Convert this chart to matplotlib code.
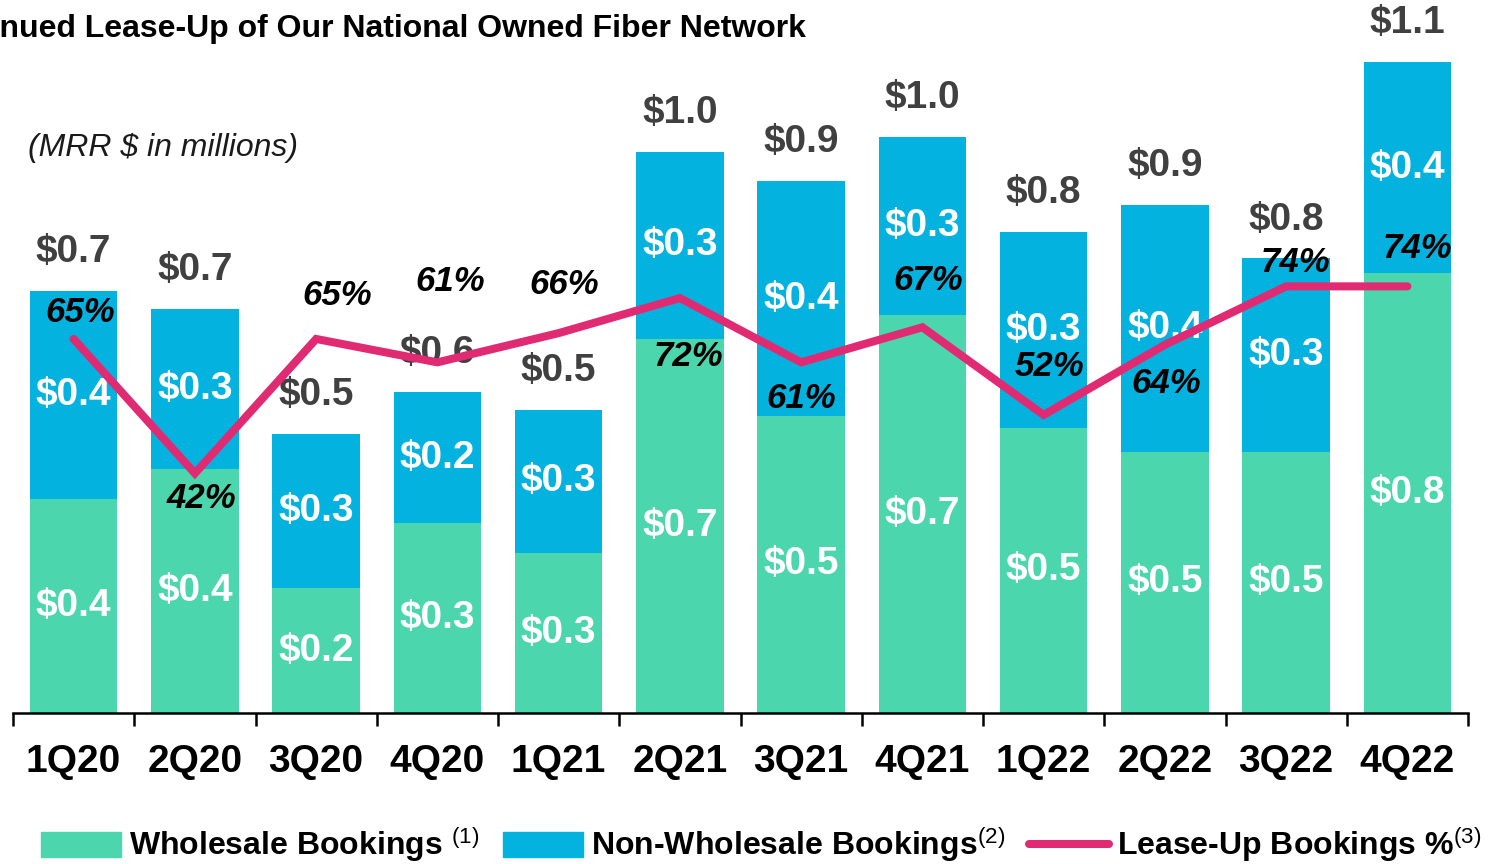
import numpy as np
import matplotlib
matplotlib.use("Agg")
import matplotlib.pyplot as plt
from matplotlib.patches import Patch
from matplotlib.lines import Line2D

plt.rcParams['font.family'] = ['Liberation Sans', 'DejaVu Sans']
plt.rcParams['mathtext.fontset'] = 'custom'
plt.rcParams['mathtext.rm'] = 'Liberation Sans'
plt.rcParams['mathtext.it'] = 'Liberation Sans'

# data (MRR $ in millions)
quarters = ['1Q20', '2Q20', '3Q20', '4Q20', '1Q21', '2Q21',
            '3Q21', '4Q21', '1Q22', '2Q22', '3Q22', '4Q22']
wholesale = [0.36, 0.41, 0.21, 0.32, 0.27, 0.63, 0.50, 0.67, 0.48, 0.44, 0.44, 0.74]
non_wholesale = [0.35, 0.27, 0.26, 0.22, 0.24, 0.315, 0.395, 0.30, 0.33, 0.415, 0.325, 0.355]
lease_up_pct = [65, 42, 65, 61, 66, 72, 61, 67, 52, 64, 74, 74]

wholesale_lbl = ['$0.4', '$0.4', '$0.2', '$0.3', '$0.3', '$0.7',
                 '$0.5', '$0.7', '$0.5', '$0.5', '$0.5', '$0.8']
non_wholesale_lbl = ['$0.4', '$0.3', '$0.3', '$0.2', '$0.3', '$0.3',
                     '$0.4', '$0.3', '$0.3', '$0.4', '$0.3', '$0.4']
total_lbl = ['$0.7', '$0.7', '$0.5', '$0.6', '$0.5', '$1.0',
             '$0.9', '$1.0', '$0.8', '$0.9', '$0.8', '$1.1']

# offsets (points) of the % labels from the line points
pct_offsets = [(5, 19), (5, -18), (15, 31), (9, 58), (4, 35), (6, -42),
               (0, -26), (4, 34), (4, 35), (1, -28), (7, 17), (7, 27)]

green = '#4BD6AD'
blue = '#04B2E0'
pink = '#E02B73'

x = np.arange(len(quarters))
totals = np.array(wholesale) + np.array(non_wholesale)

fig = plt.figure(figsize=(15.01, 8.64), dpi=100)
ax = fig.add_axes([13/1501, 1 - 713/864, (1468-13)/1501, 713/864])

ax.bar(x, wholesale, width=0.72, color=green)
ax.bar(x, non_wholesale, width=0.72, bottom=wholesale, color=blue)

ax.set_xlim(-0.5, 11.5)
ax.set_ylim(0, 1.2)

for i in range(len(quarters)):
    ax.text(x[i], wholesale[i] / 2, wholesale_lbl[i], ha='center', va='center',
            color='white', fontsize=28, fontweight='bold')
    ax.text(x[i], wholesale[i] + non_wholesale[i] / 2, non_wholesale_lbl[i],
            ha='center', va='center', color='white', fontsize=28, fontweight='bold')
    ax.annotate(total_lbl[i], (x[i], totals[i]), xytext=(0, 28), textcoords='offset points',
                ha='center', va='center', color='#404040', fontsize=28, fontweight='bold')

for s in ['top', 'left', 'right']:
    ax.spines[s].set_visible(False)
ax.spines['bottom'].set_linewidth(1.8)
ax.set_yticks([])
ax.set_xticks(x)
ax.set_xticklabels(quarters, fontsize=28, fontweight='bold')
ax.tick_params(axis='x', which='major', length=0, pad=22)
ax.set_xticks(np.arange(-0.5, 12, 1), minor=True)
ax.tick_params(axis='x', which='minor', length=9, width=1.8, direction='out')

ax2 = ax.twinx()
ax2.plot(x, lease_up_pct, color=pink, linewidth=5.8, solid_capstyle='round',
         solid_joinstyle='miter')
ax2.set_ylim(1, 123)
ax2.axis('off')
for i in range(len(quarters)):
    ax2.annotate(f'{lease_up_pct[i]}%', (x[i], lease_up_pct[i]), xytext=pct_offsets[i],
                 textcoords='offset points', ha='center', va='center',
                 fontsize=25, fontweight='bold', fontstyle='italic', color='black')

# title is cut at the left edge, as in the source slide
fig.text(806/1501, 1 - 29/864, 'Continued Lease-Up of Our National Owned Fiber Network',
         ha='right', va='center', fontsize=23, fontweight='bold', color='black')
fig.text(28/1501, 1 - 148/864, '(MRR $ in millions)', ha='left', va='center',
         fontsize=23, fontstyle='italic', color='#1a1a1a')

handles = [Patch(color=green), Patch(color=blue),
           Line2D([0], [0], color=pink, linewidth=5.8, solid_capstyle='round')]
labels = ['Wholesale Bookings $^{(1)}$', 'Non-Wholesale Bookings$^{(2)}$',
          'Lease-Up Bookings %$^{(3)}$']
fig.legend(handles, labels, loc='center', bbox_to_anchor=(761/1501, 1 - 845/864), ncol=3,
           frameon=False, prop={'size': 23, 'weight': 'bold'}, handlelength=2.5,
           handleheight=0.8, handletextpad=0.25, columnspacing=0.75, borderaxespad=0)

fig.savefig('out.png', dpi=100)
